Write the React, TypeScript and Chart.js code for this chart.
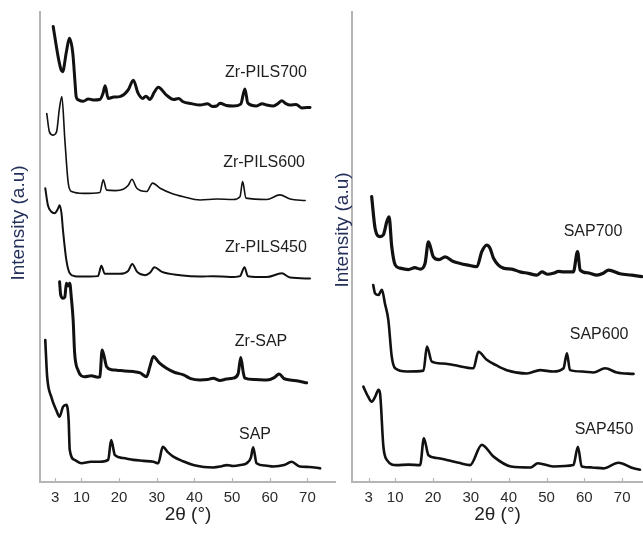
import React, { useEffect, useRef } from "react";
import { Chart, registerables } from "chart.js";

Chart.register(...registerables);

const FONT = "'Liberation Sans', Arial, Helvetica, sans-serif";

// Axis texts and ticks
const tickValues = [3, 10, 20, 30, 40, 50, 60, 70];
const xTitle = "2θ (°)";
const yTitle = "Intensity (a.u)";

// ---- Left panel patterns: [2θ (°), stacked intensity (a.u.)] ----
const zrPils700: number[][] = [
  [2.5, 96.9], [3.9, 90.1], [4.6, 87.7], [5.0, 87.3], [6.0, 91.5], [6.8, 94.4], [7.7, 91.3], [8.3, 85.0], [8.6, 82.0], [9.2, 81.3],
  [10.5, 81.0], [11.8, 81.5], [13.1, 81.3], [14.9, 81.4], [15.7, 82.6], [16.3, 84.3], [17.1, 81.6], [18.6, 81.9], [20.2, 82.0], [22.4, 83.4], [23.8, 85.5],
  [25.0, 82.8], [26.3, 81.6], [27.1, 82.1], [28.2, 81.4], [29.4, 83.0], [30.4, 84.0], [32.6, 82.3], [34.5, 81.4], [35.8, 81.6], [37.0, 80.9],
  [39.2, 80.5], [41.5, 80.2], [43.5, 80.5], [44.8, 79.9], [45.9, 80.0], [46.8, 80.6], [48.5, 80.1], [50.3, 80.0], [52.3, 80.4], [53.4, 83.6], [54.2, 80.6],
  [56.5, 80.0], [58.0, 80.5], [59.2, 80.2], [61.0, 80.0], [62.3, 80.6], [63.2, 81.1], [64.3, 80.5], [65.4, 80.2], [67.0, 80.3], [68.5, 79.6], [70.7, 79.7],
];
const zrPils600: number[][] = [
  [0.8, 78.4], [1.5, 74.5], [2.5, 73.8], [3.4, 74.5], [4.1, 79.1], [4.8, 82.0], [5.6, 72.8], [6.5, 63.6],
  [7.4, 61.8], [10.5, 61.4], [14.9, 61.6], [15.8, 64.3], [16.7, 62.1], [19.0, 62.0], [21.1, 62.3], [22.5, 63.2], [23.4, 64.4],
  [24.7, 62.5], [27.3, 61.8], [28.9, 63.6], [30.9, 62.5], [34.0, 61.4], [37.1, 60.7], [41.5, 60.0], [45.9, 60.2],
  [50.3, 60.1], [52.1, 60.7], [52.8, 63.9], [53.7, 60.4], [59.2, 60.1], [62.7, 61.1], [65.4, 60.2],
  [69.4, 59.9],
];
const zrPils450: number[][] = [
  [0.4, 62.5], [1.1, 58.9], [2.0, 57.5], [2.9, 57.2], [3.8, 58.2], [4.2, 58.9], [4.7, 57.2], [5.1, 53.6],
  [6.0, 47.2], [6.9, 44.4], [8.2, 43.8], [12.3, 43.7], [14.4, 43.8], [15.3, 46.0], [16.2, 44.3],
  [20.2, 44.3], [22.4, 44.9], [23.5, 46.4], [24.8, 44.7], [26.9, 44.0], [28.2, 44.5], [29.4, 45.7],
  [31.4, 44.7], [36.2, 44.0], [41.5, 43.7], [44.9, 43.8], [49.5, 43.6], [52.1, 43.8], [53.3, 45.7],
  [54.2, 43.8], [59.2, 43.6], [63.2, 44.4], [65.4, 43.5], [70.7, 43.3],
];
const zrSap: number[][] = [
  [4.2, 42.6], [4.5, 39.8], [5.1, 39.1], [5.6, 39.4], [6.0, 42.3], [6.4, 41.7], [6.9, 42.3], [7.3, 39.4],
  [7.8, 34.5], [8.2, 27.4], [9.1, 23.8], [10.9, 22.4], [12.6, 22.6], [14.4, 22.3], [14.9, 22.4], [15.5, 28.1],
  [16.7, 24.5], [18.0, 23.9], [19.4, 23.8], [21.5, 23.6], [23.8, 23.5], [25.6, 23.2], [27.3, 22.4], [28.2, 24.6], [29.1, 26.7], [30.6, 25.4], [32.6, 24.2], [34.8, 23.3], [37.1, 22.8],
  [39.0, 22.0], [41.5, 21.7], [43.5, 21.8], [45.0, 22.1], [46.8, 21.6], [48.5, 21.9], [50.3, 22.1], [51.6, 23.0], [52.3, 26.5], [53.0, 23.2], [53.4, 22.1], [56.0, 21.8], [59.2, 21.7],
  [61.2, 22.2], [62.5, 23.0], [63.8, 22.0], [65.4, 21.7], [67.5, 21.5], [69.8, 21.1],
];
const sap: number[][] = [
  [0.4, 30.2], [0.9, 22.4], [2.0, 18.1], [3.3, 15.3], [4.2, 13.9], [5.1, 16.0], [6.0, 16.4], [6.6, 13.2],
  [6.9, 6.8], [8.2, 4.7], [10.0, 4.0], [12.5, 4.3], [14.9, 4.3], [17.1, 4.7], [17.9, 8.9], [18.9, 5.7], [21.0, 5.1], [23.8, 4.7],
  [26.5, 4.5], [29.1, 4.3], [30.4, 4.0], [31.6, 7.5], [33.0, 6.3], [34.4, 5.4], [37.0, 4.4], [39.7, 3.6], [42.5, 3.2], [45.0, 3.1], [47.0, 3.3], [48.6, 3.6], [50.3, 3.4],
  [52.2, 3.6], [53.9, 4.0], [55.0, 5.2], [55.6, 7.4], [56.5, 4.0], [58.8, 3.5], [61.0, 3.3], [63.8, 3.6], [65.8, 4.3], [68.0, 3.3], [70.5, 3.2], [73.4, 2.9],
];

// ---- Right panel patterns ----
const sap700: number[][] = [
  [3.8, 60.7], [4.7, 54.0], [6.0, 52.2], [6.9, 52.6], [7.8, 55.4], [8.4, 56.4], [9.1, 50.1], [10.0, 46.2],
  [11.3, 45.5], [13.5, 45.2], [15.2, 45.6], [16.6, 45.3], [17.9, 46.5], [18.8, 51.1], [20.1, 47.9], [21.6, 47.3], [23.2, 47.9], [25.4, 46.9],
  [27.2, 46.5], [28.9, 46.2], [31.6, 45.8], [32.9, 49.0], [34.2, 50.4], [35.1, 49.7], [36.0, 47.6], [38.6, 45.5], [40.8, 45.3],
  [43.0, 44.7], [45.2, 44.4], [47.4, 44.0], [48.8, 44.7], [50.3, 44.2], [51.8, 44.4], [53.2, 44.8], [54.5, 44.7], [57.1, 44.7], [58.2, 49.0],
  [58.9, 45.1], [61.0, 44.5], [63.3, 44.0], [65.0, 44.4], [66.4, 45.1], [69.4, 44.3], [72.5, 44.0], [75.2, 43.7],
];
const sap600: number[][] = [
  [4.2, 41.9], [4.7, 40.1], [5.6, 39.8], [6.5, 40.9], [7.3, 38.0], [8.2, 34.5], [9.1, 26.7], [10.0, 24.2],
  [13.1, 23.5], [17.5, 23.7], [18.4, 28.8], [19.7, 25.6], [22.5, 25.2], [25.4, 24.9], [30.7, 24.2], [32.0, 27.7],
  [34.2, 26.0], [36.8, 24.8], [39.5, 23.8], [44.8, 23.1], [48.3, 23.8], [51.8, 23.5], [54.5, 24.2], [55.4, 27.4],
  [56.2, 23.8], [59.5, 23.5], [62.4, 23.3], [65.5, 24.2], [68.6, 23.3], [73.0, 23.0],
];
const sap450: number[][] = [
  [1.6, 20.3], [2.9, 18.1], [3.8, 17.1], [4.7, 18.1], [5.6, 19.6], [6.0, 18.9], [6.9, 7.5], [7.8, 4.7],
  [10.4, 3.6], [13.5, 3.7], [16.6, 3.6], [17.6, 9.3], [18.8, 5.7], [21.0, 5.1], [23.6, 4.7], [26.8, 4.1], [29.8, 3.6], [32.9, 7.9], [36.0, 5.4],
  [40.6, 3.3], [45.9, 3.1], [47.7, 4.0], [51.8, 3.3], [57.1, 3.6], [58.3, 7.5], [59.3, 3.3], [62.0, 3.1], [65.0, 2.9],
  [69.0, 4.1], [73.0, 2.9], [74.7, 2.6],
];

// Sample names and where they are written (2θ, intensity)
const leftNames = ["Zr-PILS700", "Zr-PILS600", "Zr-PILS450", "Zr-SAP", "SAP"];
const leftNameAt: number[][] = [[59.0, 87.2], [58.5, 67.9], [59.0, 49.8], [57.7, 29.8], [56.1, 10.0]];
const rightNames = ["SAP700", "SAP600", "SAP450"];
const rightNameAt: number[][] = [[62.3, 53.2], [63.9, 31.3], [65.2, 11.1]];

type Panel = {
  series: number[][][];
  widths: number[];
  names: string[];
  nameAt: number[][];
  xMin: number;
  xMax: number;
  yAxisWidth: number;
  yTitlePos: [number, number];
};

const overlay = {
  id: "overlay",
  afterDraw(chart: any) {
    const cfg: Panel = chart.options.plugins.overlay.panel;
    const ctx = chart.ctx;
    const xs = chart.scales.x;
    const ys = chart.scales.y;
    ctx.save();
    // inward tick marks
    ctx.strokeStyle = "#b8b8b8";
    ctx.lineWidth = 1.2;
    tickValues.forEach((v) => {
      const px = Math.round(xs.getPixelForValue(v)) + 0.5;
      ctx.beginPath();
      ctx.moveTo(px, ys.bottom - 1);
      ctx.lineTo(px, ys.bottom - 4);
      ctx.stroke();
    });
    // sample names
    ctx.font = `16px ${FONT}`;
    ctx.fillStyle = "#1e1e1e";
    ctx.textAlign = "center";
    ctx.textBaseline = "middle";
    cfg.names.forEach((n, i) => {
      ctx.fillText(n, xs.getPixelForValue(cfg.nameAt[i][0]), ys.getPixelForValue(cfg.nameAt[i][1]));
    });
    // y title
    ctx.translate(cfg.yTitlePos[0], cfg.yTitlePos[1]);
    ctx.rotate(-Math.PI / 2);
    ctx.font = `19px ${FONT}`;
    ctx.fillStyle = "#25305a";
    ctx.fillText(yTitle, 0, 0);
    ctx.restore();
  },
};

function PanelChart({ panel, left, width }: { panel: Panel; left: number; width: number }) {
  const ref = useRef<HTMLCanvasElement>(null);
  useEffect(() => {
    if (!ref.current) return;
    const chart = new Chart(ref.current, {
      type: "line",
      data: {
        datasets: panel.series.map((s, i) => ({
          label: panel.names[i],
          data: s.map(([x, y]) => ({ x, y })),
          borderColor: "#111111",
          borderWidth: panel.widths[i],
          pointRadius: 0,
          fill: false,
          cubicInterpolationMode: "monotone",
          borderJoinStyle: "round",
          borderCapStyle: "round",
        })),
      },
      options: {
        animation: false,
        responsive: false,
        maintainAspectRatio: false,
        layout: { padding: { top: 12, left: 0, right: 0, bottom: 0 } },
        plugins: {
          legend: { display: false },
          tooltip: { enabled: false },
          overlay: { panel },
        } as any,
        scales: {
          x: {
            type: "linear",
            min: panel.xMin,
            max: panel.xMax,
            afterBuildTicks: (s: any) => {
              s.ticks = tickValues.map((v) => ({ value: v }));
            },
            afterFit: (s: any) => {
              s.height = 52;
            },
            grid: { display: true, drawOnChartArea: false, drawTicks: false },
            border: { display: true, color: "#b5b5b5", width: 2 },
            ticks: {
              autoSkip: false,
              maxRotation: 0,
              padding: 7,
              color: "#2a2a2a",
              font: { family: FONT, size: 15 },
              callback: (v: any) => String(v),
            },
            title: {
              display: true,
              text: xTitle,
              color: "#222222",
              font: { family: FONT, size: 19 },
              padding: { top: 0, bottom: 8 },
            },
          },
          y: {
            type: "linear",
            min: 0,
            max: 100,
            afterFit: (s: any) => {
              s.width = panel.yAxisWidth;
            },
            grid: { display: false },
            border: { display: true, color: "#b5b5b5", width: 2 },
            ticks: { display: false },
          },
        },
      },
      plugins: [overlay],
    } as any);
    return () => chart.destroy();
  }, []);
  return (
    <canvas
      ref={ref}
      width={width}
      height={534}
      style={{ position: "absolute", left, top: 0, width, height: 534, display: "block" }}
    />
  );
}

const leftPanel: Panel = {
  series: [zrPils700, zrPils600, zrPils450, zrSap, sap],
  widths: [3, 1.6, 2, 3, 2.6],
  names: leftNames,
  nameAt: leftNameAt,
  xMin: -1,
  xMax: 77.6,
  yAxisWidth: 40,
  yTitlePos: [19, 223],
};

const rightPanel: Panel = {
  series: [sap700, sap600, sap450],
  widths: [3.2, 2.6, 2.6],
  names: rightNames,
  nameAt: rightNameAt,
  xMin: -1.4,
  xMax: 75.5,
  yAxisWidth: 30,
  yTitlePos: [21, 230],
};

export default function App() {
  return (
    <div style={{ position: "fixed", left: 0, top: 0, width: 643, height: 534, background: "#ffffff", overflow: "hidden" }}>
      <PanelChart panel={leftPanel} left={0} width={336} />
      <PanelChart panel={rightPanel} left={322} width={321} />
    </div>
  );
}
